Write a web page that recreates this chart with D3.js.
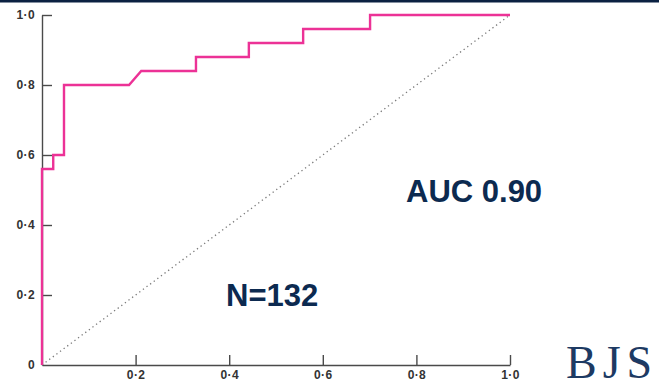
<!DOCTYPE html>
<html>
<head>
<meta charset="utf-8">
<script src="https://cdn.jsdelivr.net/npm/d3@7"></script>
<style>
  html, body { margin: 0; padding: 0; background: #fff; }
  svg { display: block; }
</style>
</head>
<body>
<svg id="chart" width="659" height="385"></svg>
<script>
// ROC curve points: false positive rate (1 - specificity) and sensitivity
const fpr = [0, 0, 0.024, 0.024, 0.047, 0.047, 0.186, 0.212, 0.329, 0.329, 0.442, 0.442, 0.558, 0.558, 0.701, 0.701, 1.0];
const tpr = [0, 0.56, 0.56, 0.60, 0.60, 0.80, 0.80, 0.84, 0.84, 0.88, 0.88, 0.92, 0.92, 0.96, 0.96, 1.0, 1.0];

const tickValues = [0, 0.2, 0.4, 0.6, 0.8, 1.0];
const xTickLabels = ["", "0·2", "0·4", "0·6", "0·8", "1·0"];
const yTickLabels = ["0", "0·2", "0·4", "0·6", "0·8", "1·0"];

const aucText = "AUC 0.90";
const nText = "N=132";
const logoText = "BJS";

const W = 659, H = 385;
const svg = d3.select("#chart");

// Thin navy band across the top edge
svg.append("rect").attr("x", 0).attr("y", 0).attr("width", W).attr("height", 2.5).attr("fill", "#0b2142");

const x = d3.scaleLinear().domain([0, 1]).range([42, 510]);
const y = d3.scaleLinear().domain([0, 1]).range([365, 15]);

const labelFont = "Liberation Sans, Arial, sans-serif";
const axisColor = "#4a4a4a";
const labelColor = "#333";

// x axis with inward ticks
const xAxis = d3.axisBottom(x).tickValues(tickValues).tickSizeInner(-10).tickSizeOuter(0)
  .tickFormat((d, i) => xTickLabels[i]).tickPadding(6);
const gx = svg.append("g").attr("transform", `translate(0,${y(0)})`).call(xAxis);
gx.select(".domain").attr("stroke", axisColor).attr("stroke-width", 1.4);
gx.selectAll(".tick line").attr("stroke", axisColor).attr("stroke-width", 1.4);
gx.selectAll(".tick").filter(d => d === 0).select("line").remove();
gx.selectAll(".tick text")
  .attr("y", 14).attr("dy", 0)
  .attr("fill", labelColor).attr("font-family", labelFont)
  .attr("font-size", 12).attr("font-weight", "bold").attr("letter-spacing", 0.4);

// y axis with inward ticks
const yAxis = d3.axisLeft(y).tickValues(tickValues).tickSizeInner(-10).tickSizeOuter(0)
  .tickFormat((d, i) => yTickLabels[i]).tickPadding(8);
const gy = svg.append("g").attr("transform", `translate(${x(0)},0)`).call(yAxis);
gy.select(".domain").attr("stroke", axisColor).attr("stroke-width", 1.4);
gy.selectAll(".tick line").attr("stroke", axisColor).attr("stroke-width", 1.4);
gy.selectAll(".tick").filter(d => d === 0).select("line").remove();
gy.selectAll(".tick text")
  .attr("x", -7)
  .attr("fill", labelColor).attr("font-family", labelFont)
  .attr("font-size", 12).attr("font-weight", "bold").attr("letter-spacing", 0.4);

// Chance diagonal
svg.append("line")
  .attr("x1", x(0)).attr("y1", y(0)).attr("x2", x(1)).attr("y2", y(1))
  .attr("stroke", "#7a7a7a").attr("stroke-width", 1.3)
  .attr("stroke-dasharray", "1.3 3.2");

// ROC curve
const pts = fpr.map((f, i) => [f, tpr[i]]);
svg.append("path")
  .datum(pts)
  .attr("fill", "none")
  .attr("stroke", "#ec3296")
  .attr("stroke-width", 2.4)
  .attr("stroke-linejoin", "miter")
  .attr("d", d3.line().x(d => x(d[0])).y(d => y(d[1])));

// Annotations
const navy = "#0c2a50";
svg.append("text").attr("x", 406).attr("y", 202)
  .attr("font-family", "Liberation Sans, Arial, sans-serif").attr("font-weight", "bold")
  .attr("font-size", 31).attr("fill", navy).text(aucText);
svg.append("text").attr("x", 226).attr("y", 306)
  .attr("font-family", "Liberation Sans, Arial, sans-serif").attr("font-weight", "bold")
  .attr("font-size", 31).attr("fill", navy).text(nText);

// Journal mark
svg.append("text").attr("x", 566).attr("y", 378)
  .attr("font-family", "Liberation Serif, Times New Roman, serif")
  .attr("font-size", 46).attr("fill", "#1d3a63")
  .attr("letter-spacing", 6)
  .text(logoText);
</script>
</body>
</html>
